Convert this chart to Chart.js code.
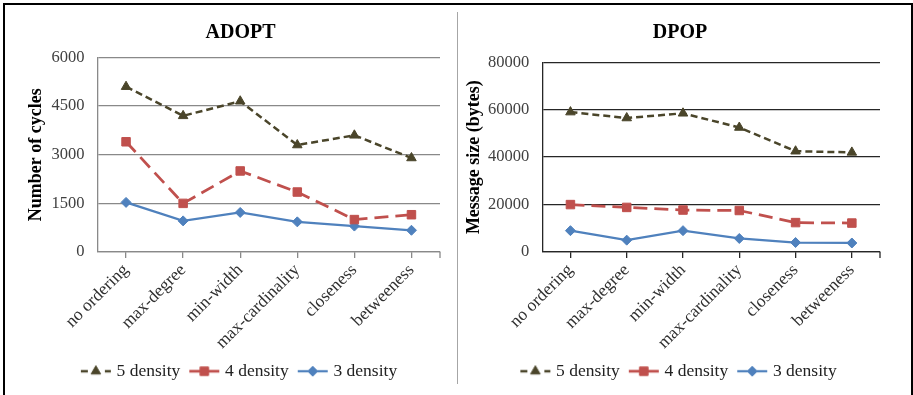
<!DOCTYPE html>
<html>
<head>
<meta charset="utf-8">
<script src="https://cdn.jsdelivr.net/npm/chart.js@4.4.1/dist/chart.umd.min.js"></script>
<style>
  html, body { margin: 0; padding: 0; background: #fff; }
  body { width: 913px; height: 395px; position: relative; overflow: hidden; }
  #frame { position: absolute; left: 3px; top: 3px; width: 910px; height: 420px; box-sizing: border-box; border: 2px solid #000; }
  #divider { position: absolute; left: 457px; top: 12px; width: 1px; height: 372px; background: #a6a6a6; }
  canvas { position: absolute; top: 5px; }
  #adopt { left: 5px; }
  #dpop { left: 459px; }
</style>
</head>
<body>
<div id="frame"></div>
<div id="divider"></div>
<canvas id="adopt" width="451" height="388"></canvas>
<canvas id="dpop" width="450" height="388"></canvas>
<script>
// Variable ordering heuristics compared on both algorithms
const categories = ['no ordering', 'max-degree', 'min-width', 'max-cardinality', 'closeness', 'betweeness'];
const seriesNames = ['5 density', '4 density', '3 density'];

// ADOPT: number of cycles
const adopt5 = [5100, 4200, 4650, 3300, 3600, 2900];
const adopt4 = [3400, 1500, 2500, 1850, 1000, 1150];
const adopt3 = [1530, 960, 1220, 930, 800, 670];
const adoptTicks = [0, 1500, 3000, 4500, 6000];

// DPOP: message size in bytes
const dpop5 = [59000, 56500, 58500, 52500, 42500, 42000];
const dpop4 = [20000, 18800, 17700, 17500, 12400, 12200];
const dpop3 = [9000, 5000, 9000, 5700, 4000, 3800];
const dpopTicks = [0, 20000, 40000, 60000, 80000];

const SERIF = "'Liberation Serif', 'Times New Roman', serif";

// Line and marker look of each density series
const seriesStyles = [
  { color: '#4a452a', dash: [7, 4], width: 2.5, point: 'triangle', radius: 5.5, legendDash: [7, 17] },
  { color: '#c0504d', dash: [14, 7], width: 2.75, point: 'rect', radius: 6, legendDash: [] },
  { color: '#4f81bd', dash: [], width: 2.25, point: 'rectRot', radius: 5, legendDash: [] }
];

// Small line-plus-marker swatch used as the legend symbol
function legendSymbol(style) {
  const c = document.createElement('canvas');
  c.width = 32; c.height = 14;
  const g = c.getContext('2d');
  g.strokeStyle = style.color;
  g.lineWidth = style.width;
  g.setLineDash(style.legendDash);
  g.beginPath(); g.moveTo(1, 7); g.lineTo(31, 7); g.stroke();
  g.setLineDash([]);
  g.fillStyle = style.color;
  g.lineWidth = 1;
  Chart.helpers.drawPoint(g, { pointStyle: style.point, radius: style.radius, borderWidth: 1 }, 16, 7);
  return c;
}

// Short tick mark closing the category axis on the right
const axisEndTick = {
  id: 'axisEndTick',
  afterDraw(chart, args, opts) {
    const { ctx, chartArea } = chart;
    const xs = chart.scales.x;
    ctx.save();
    ctx.strokeStyle = opts.color;
    ctx.lineWidth = opts.width;
    ctx.beginPath();
    ctx.moveTo(chartArea.right, xs.top);
    ctx.lineTo(chartArea.right, xs.top + opts.length);
    ctx.stroke();
    ctx.restore();
  }
};

function buildChart(canvasId, cfg) {
  const symbols = seriesStyles.map(legendSymbol);
  const datasets = cfg.values.map((vals, i) => {
    const s = seriesStyles[i];
    return {
      label: seriesNames[i],
      data: vals,
      borderColor: s.color,
      backgroundColor: s.color,
      borderWidth: s.width,
      borderDash: s.dash,
      pointStyle: s.point,
      pointRadius: s.radius,
      pointBorderWidth: 1,
      pointBackgroundColor: s.color,
      pointBorderColor: s.color,
      tension: 0,
      fill: false
    };
  });
  return new Chart(document.getElementById(canvasId), {
    type: 'line',
    data: { labels: categories, datasets },
    plugins: [axisEndTick],
    options: {
      responsive: false,
      animation: false,
      events: [],
      layout: { padding: cfg.padding },
      plugins: {
        tooltip: { enabled: false },
        axisEndTick: { color: cfg.axisColor, width: 1.3, length: 6 },
        title: {
          display: true,
          text: cfg.title,
          color: '#000',
          font: { family: SERIF, size: 20, weight: 'bold' },
          padding: cfg.titlePadding
        },
        legend: {
          position: 'bottom',
          labels: {
            usePointStyle: true,
            pointStyleWidth: 24,
            padding: 12,
            color: '#222',
            font: { family: SERIF, size: 17.5 },
            generateLabels: (chart) => chart.data.datasets.map((ds, i) => ({
              text: ds.label,
              pointStyle: symbols[i],
              fillStyle: ds.borderColor,
              strokeStyle: ds.borderColor,
              lineWidth: 0,
              hidden: false,
              datasetIndex: i,
              fontColor: '#222'
            }))
          }
        }
      },
      scales: {
        x: {
          offset: true,
          grid: { offset: false, drawOnChartArea: false, drawTicks: true, tickLength: 6, color: cfg.axisColor, lineWidth: 1.3 },
          border: { display: true, color: cfg.axisColor, width: 1.3 },
          ticks: { autoSkip: false, minRotation: 45, maxRotation: 45, padding: 2, color: '#303030', font: { family: SERIF, size: 17.5 } },
          afterFit: (s) => { s.height = cfg.xHeight; s.paddingRight = cfg.rightInset; s.paddingLeft = 0; }
        },
        y: {
          min: cfg.ticks[0],
          max: cfg.ticks[cfg.ticks.length - 1],
          afterBuildTicks: (s) => { s.ticks = cfg.ticks.map(v => ({ value: v })); },
          grid: { color: cfg.gridColor, lineWidth: 1.3, drawTicks: false },
          border: { display: true, color: cfg.axisColor, width: 1.3 },
          ticks: { padding: cfg.tickPadding, color: '#404040', font: { family: SERIF, size: 16.5 }, callback: (v) => String(v) },
          title: {
            display: true,
            text: cfg.yTitle,
            color: '#000',
            font: { family: SERIF, size: 18, weight: 'bold' },
            padding: { top: cfg.yTitleOffset, bottom: 0 }
          },
          afterFit: (s) => { s.width = cfg.yWidth; }
        }
      }
    }
  });
}

buildChart('adopt', {
  title: 'ADOPT',
  yTitle: 'Number of cycles',
  values: [adopt5, adopt4, adopt3],
  ticks: adoptTicks,
  gridColor: '#898989',
  axisColor: '#898989',
  padding: { left: 20, right: 0, top: 0, bottom: 3 },
  titlePadding: { top: 15.5, bottom: 13 },
  yWidth: 72.5,
  yTitleOffset: 0.5,
  tickPadding: 13,
  xHeight: 98.5,
  rightInset: 16
});

buildChart('dpop', {
  title: 'DPOP',
  yTitle: 'Message size (bytes)',
  values: [dpop5, dpop4, dpop3],
  ticks: dpopTicks,
  gridColor: '#262626',
  axisColor: '#262626',
  padding: { left: 0, right: 8, top: 0, bottom: 3 },
  titlePadding: { top: 16, bottom: 17.3 },
  yWidth: 83.3,
  yTitleOffset: 4.5,
  tickPadding: 13,
  xHeight: 98.5,
  rightInset: 29
});
</script>
</body>
</html>
